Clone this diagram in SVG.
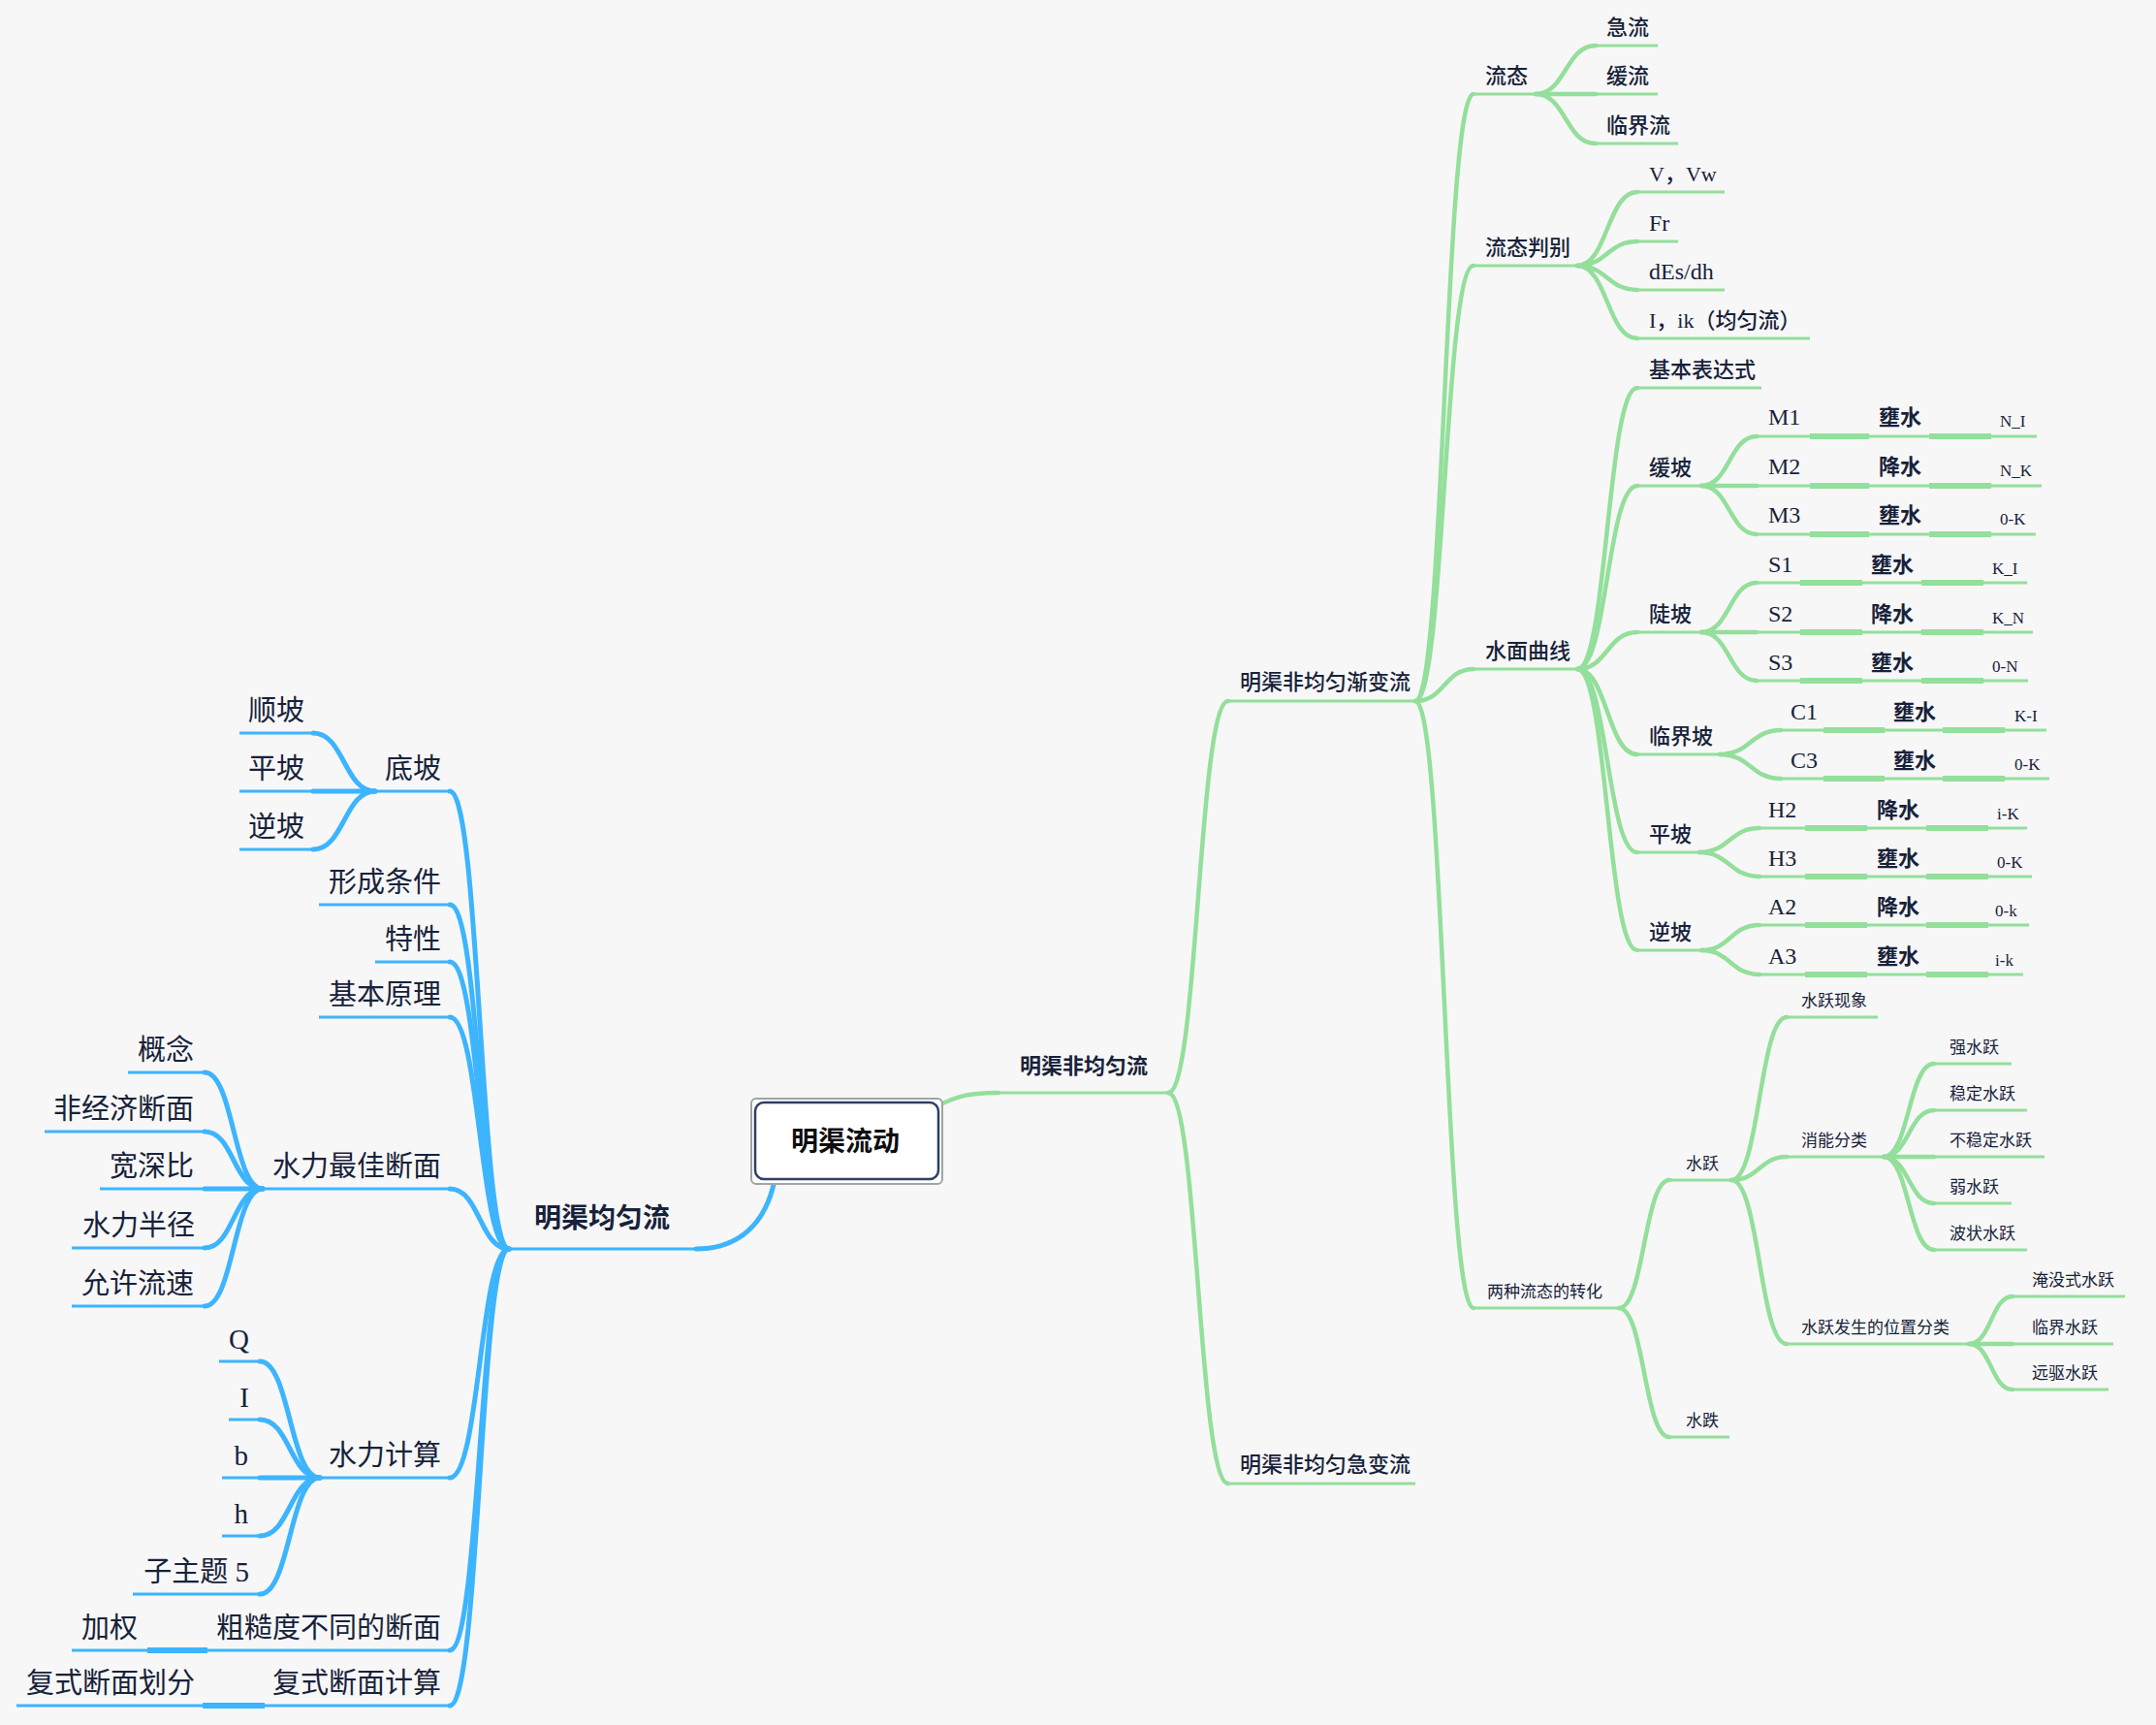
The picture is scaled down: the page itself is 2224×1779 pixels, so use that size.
<svg xmlns="http://www.w3.org/2000/svg" width="2224" height="1779" viewBox="0 0 2224 1779">
<style>
.bg{fill:#f7f7f7}
.gl{stroke:#93df9b;stroke-width:3;fill:none}
.gc{stroke:#93df9b;stroke-width:4.5;fill:none;stroke-linecap:round}
.gk{stroke:#93df9b;stroke-width:6;fill:none}
.bl{stroke:#3db4fe;stroke-width:3;fill:none}
.bc{stroke:#3db4fe;stroke-width:5;fill:none;stroke-linecap:round}
.bk{stroke:#3db4fe;stroke-width:6;fill:none}
text{fill:#17223a;font-family:"Liberation Serif","Noto Sans CJK SC",serif}
.t28{font-size:29px;text-anchor:end}
.t22{font-size:22px;font-weight:500}
.t24{font-size:24px}
.t22b{font-size:22px;font-weight:bold}
.t16{font-size:17px}
.t17{font-size:17px}
.bold{font-family:"Noto Sans CJK SC","Liberation Sans",sans-serif;font-weight:bold}
</style>
<rect class="bg" x="0" y="0" width="2224" height="1779"/>

<g id="connectors">
<path class="gc" d="M966 1141 C988 1130 1000 1127 1030 1127"/>
<path class="bc" d="M799 1217 C790 1262 762 1288 718 1288"/>
<path class="gc" d="M1205 1127 C1236 1127 1236 723 1267 723"/>
<path class="gc" d="M1205 1127 C1236 1127 1236 1530 1267 1530"/>
<path class="gc" d="M1460 723 C1490 723 1490 97 1520 97"/>
<path class="gc" d="M1460 723 C1490 723 1490 274 1520 274"/>
<path class="gc" d="M1460 723 C1490 723 1490 690 1520 690"/>
<path class="gc" d="M1460 723 C1490 723 1490 1349 1520 1349"/>
<path class="gc" d="M1584 97 C1615 97 1615 47 1646 47"/>
<path class="gc" d="M1584 97 L1646 97"/>
<path class="gc" d="M1584 97 C1615 97 1615 148 1646 148"/>
<path class="gc" d="M1627 274 C1658 274 1658 198 1689 198"/>
<path class="gc" d="M1627 274 C1658 274 1658 249 1689 249"/>
<path class="gc" d="M1627 274 C1658 274 1658 299 1689 299"/>
<path class="gc" d="M1627 274 C1658 274 1658 349 1689 349"/>
<path class="gc" d="M1627 690 C1658 690 1658 400 1689 400"/>
<path class="gc" d="M1627 690 C1658 690 1658 501 1689 501"/>
<path class="gc" d="M1627 690 C1658 690 1658 652 1689 652"/>
<path class="gc" d="M1627 690 C1658 690 1658 778 1689 778"/>
<path class="gc" d="M1627 690 C1658 690 1658 879 1689 879"/>
<path class="gc" d="M1627 690 C1658 690 1658 980 1689 980"/>
<path class="gc" d="M1755 501 C1784 501 1784 450 1812 450"/>
<path class="gc" d="M1755 501 L1812 501"/>
<path class="gc" d="M1755 501 C1784 501 1784 551 1812 551"/>
<path class="gc" d="M1755 652 C1784 652 1784 601 1812 601"/>
<path class="gc" d="M1755 652 L1812 652"/>
<path class="gc" d="M1755 652 C1784 652 1784 702 1812 702"/>
<path class="gc" d="M1774 778 C1806 778 1806 753 1837 753"/>
<path class="gc" d="M1774 778 C1806 778 1806 803 1837 803"/>
<path class="gc" d="M1753 879 C1784 879 1784 854 1815 854"/>
<path class="gc" d="M1753 879 C1784 879 1784 904 1815 904"/>
<path class="gc" d="M1755 980 C1785 980 1785 954 1815 954"/>
<path class="gc" d="M1755 980 C1785 980 1785 1005 1815 1005"/>
<path class="gk" d="M1867 450 H1928 M1990 450 H2054 M1867 501 H1928 M1990 501 H2054 M1867 551 H1928 M1990 551 H2054"/>
<path class="gk" d="M1857 601 H1921 M1982 601 H2046 M1857 652 H1921 M1982 652 H2046 M1857 702 H1921 M1982 702 H2046"/>
<path class="gk" d="M1881 753 H1944 M2004 753 H2068 M1881 803 H1944 M2004 803 H2068"/>
<path class="gk" d="M1862 854 H1926 M1987 854 H2051 M1862 904 H1926 M1987 904 H2051"/>
<path class="gk" d="M1862 954 H1926 M1987 954 H2051 M1862 1005 H1926 M1987 1005 H2051"/>
<path class="gc" d="M1670 1349 C1696 1349 1696 1217 1722 1217"/>
<path class="gc" d="M1670 1349 C1696 1349 1696 1482 1722 1482"/>
<path class="gc" d="M1786 1217 C1815 1217 1815 1049 1843 1049"/>
<path class="gc" d="M1786 1217 C1815 1217 1815 1193 1843 1193"/>
<path class="gc" d="M1786 1217 C1815 1217 1815 1386 1843 1386"/>
<path class="gc" d="M1943 1193 C1969 1193 1969 1097 1995 1097"/>
<path class="gc" d="M1943 1193 C1969 1193 1969 1145 1995 1145"/>
<path class="gc" d="M1943 1193 L1995 1193"/>
<path class="gc" d="M1943 1193 C1969 1193 1969 1241 1995 1241"/>
<path class="gc" d="M1943 1193 C1969 1193 1969 1289 1995 1289"/>
<path class="gc" d="M2031 1386 C2054 1386 2054 1337 2076 1337"/>
<path class="gc" d="M2031 1386 L2076 1386"/>
<path class="gc" d="M2031 1386 C2054 1386 2054 1433 2076 1433"/>
<path class="bc" d="M525 1288 C495 1288 495 816 464 816"/>
<path class="bc" d="M525 1288 C495 1288 495 933 464 933"/>
<path class="bc" d="M525 1288 C495 1288 495 992 464 992"/>
<path class="bc" d="M525 1288 C495 1288 495 1049 464 1049"/>
<path class="bc" d="M525 1288 C495 1288 495 1226 464 1226"/>
<path class="bc" d="M525 1288 C495 1288 495 1524 464 1524"/>
<path class="bc" d="M525 1288 C495 1288 495 1702 464 1702"/>
<path class="bc" d="M525 1288 C495 1288 495 1759 464 1759"/>
<path class="bc" d="M387 816 C355 816 355 756 323 756"/>
<path class="bc" d="M387 816 L323 816"/>
<path class="bc" d="M387 816 C355 816 355 876 323 876"/>
<path class="bc" d="M271 1226 C241 1226 241 1106 211 1106"/>
<path class="bc" d="M271 1226 C241 1226 241 1167 211 1167"/>
<path class="bc" d="M271 1226 L211 1226"/>
<path class="bc" d="M271 1226 C241 1226 241 1287 211 1287"/>
<path class="bc" d="M271 1226 C241 1226 241 1347 211 1347"/>
<path class="bc" d="M330 1524 C299 1524 299 1404 268 1404"/>
<path class="bc" d="M330 1524 C299 1524 299 1464 268 1464"/>
<path class="bc" d="M330 1524 L268 1524"/>
<path class="bc" d="M330 1524 C299 1524 299 1584 268 1584"/>
<path class="bc" d="M330 1524 C299 1524 299 1644 268 1644"/>
<path class="bk" d="M214 1702 H152 M273 1759 H209"/>
</g>

<g id="root">
<rect x="775" y="1133" width="197" height="88" rx="5" fill="#ffffff" stroke="#a3a3a3" stroke-width="2"/>
<rect x="779" y="1137" width="189" height="79" rx="9" fill="#ffffff" stroke="#2e4069" stroke-width="2.5"/>
<text class="bold" x="872" y="1187" font-size="28" text-anchor="middle" style="fill:#0d0d10">明渠流动</text>
</g>

<g id="n-nonuniform"><path class="gl" d="M1030 1127 H1205"/><text class="bold" x="1052" y="1107" font-size="22">明渠非均匀流</text></g>
<g id="n-uniform"><path class="bl" d="M525 1288 H718"/><text class="bold" x="551" y="1266" font-size="28">明渠均匀流</text></g>

<g id="n-gradual"><path class="gl" d="M1267 723 H1460"/><text class="t22" x="1279" y="711">明渠非均匀渐变流</text></g>
<g id="n-rapid"><path class="gl" d="M1267 1530 H1460"/><text class="t22" x="1279" y="1518">明渠非均匀急变流</text></g>
<g id="n-state"><path class="gl" d="M1520 97 H1584"/><text class="t22" x="1532" y="86">流态</text></g>
<g id="n-judge"><path class="gl" d="M1520 274 H1627"/><text class="t22" x="1532" y="263">流态判别</text></g>
<g id="n-surface"><path class="gl" d="M1520 690 H1627"/><text class="t22" x="1532" y="679">水面曲线</text></g>
<g id="n-transform"><path class="gl" d="M1520 1349 H1670"/><text class="t17" x="1534" y="1338">两种流态的转化</text></g>
<g id="n-jiliu"><path class="gl" d="M1646 47 H1710"/><text class="t22" x="1657" y="36">急流</text></g>
<g id="n-huanliu"><path class="gl" d="M1646 97 H1710"/><text class="t22" x="1657" y="86">缓流</text></g>
<g id="n-linjieliu"><path class="gl" d="M1646 148 H1731"/><text class="t22" x="1657" y="137">临界流</text></g>
<g id="n-vvw"><path class="gl" d="M1689 198 H1779"/><text class="t22" x="1701" y="187">V，Vw</text></g>
<g id="n-fr"><path class="gl" d="M1689 249 H1731"/><text class="t24" x="1701" y="238">Fr</text></g>
<g id="n-des"><path class="gl" d="M1689 299 H1779"/><text class="t24" x="1701" y="288">dEs/dh</text></g>
<g id="n-iik"><path class="gl" d="M1689 349 H1867"/><text class="t22" x="1701" y="338">I，ik（均匀流）</text></g>
<g id="n-basic"><path class="gl" d="M1689 400 H1817"/><text class="t22" x="1701" y="389">基本表达式</text></g>
<g id="n-mild"><path class="gl" d="M1689 501 H1755"/><text class="t22" x="1701" y="490">缓坡</text></g>
<g id="n-steep"><path class="gl" d="M1689 652 H1755"/><text class="t22" x="1701" y="641">陡坡</text></g>
<g id="n-critical"><path class="gl" d="M1689 778 H1774"/><text class="t22" x="1701" y="767">临界坡</text></g>
<g id="n-horizontal"><path class="gl" d="M1689 879 H1753"/><text class="t22" x="1701" y="868">平坡</text></g>
<g id="n-adverse"><path class="gl" d="M1689 980 H1755"/><text class="t22" x="1701" y="969">逆坡</text></g>

<g id="n-M1"><path class="gl" d="M1812 450 H1867 M1928 450 H1990 M2054 450 H2101"/><text class="t24" x="1824" y="438">M1</text><text class="t22b bold" x="1938" y="438">壅水</text><text class="t16" x="2063" y="440">N_I</text></g>
<g id="n-M2"><path class="gl" d="M1812 501 H1867 M1928 501 H1990 M2054 501 H2106"/><text class="t24" x="1824" y="489">M2</text><text class="t22b bold" x="1938" y="489">降水</text><text class="t16" x="2063" y="491">N_K</text></g>
<g id="n-M3"><path class="gl" d="M1812 551 H1867 M1928 551 H1990 M2054 551 H2100"/><text class="t24" x="1824" y="539">M3</text><text class="t22b bold" x="1938" y="539">壅水</text><text class="t16" x="2063" y="541">0-K</text></g>
<g id="n-S1"><path class="gl" d="M1812 601 H1857 M1921 601 H1982 M2046 601 H2091"/><text class="t24" x="1824" y="590">S1</text><text class="t22b bold" x="1930" y="590">壅水</text><text class="t16" x="2055" y="592">K_I</text></g>
<g id="n-S2"><path class="gl" d="M1812 652 H1857 M1921 652 H1982 M2046 652 H2097"/><text class="t24" x="1824" y="641">S2</text><text class="t22b bold" x="1930" y="641">降水</text><text class="t16" x="2055" y="643">K_N</text></g>
<g id="n-S3"><path class="gl" d="M1812 702 H1857 M1921 702 H1982 M2046 702 H2092"/><text class="t24" x="1824" y="691">S3</text><text class="t22b bold" x="1930" y="691">壅水</text><text class="t16" x="2055" y="693">0-N</text></g>
<g id="n-C1"><path class="gl" d="M1837 753 H1881 M1944 753 H2004 M2068 753 H2111"/><text class="t24" x="1847" y="742">C1</text><text class="t22b bold" x="1953" y="742">壅水</text><text class="t16" x="2078" y="744">K-I</text></g>
<g id="n-C3"><path class="gl" d="M1837 803 H1881 M1944 803 H2004 M2068 803 H2114"/><text class="t24" x="1847" y="792">C3</text><text class="t22b bold" x="1953" y="792">壅水</text><text class="t16" x="2078" y="794">0-K</text></g>
<g id="n-H2"><path class="gl" d="M1815 854 H1862 M1926 854 H1987 M2051 854 H2091"/><text class="t24" x="1824" y="843">H2</text><text class="t22b bold" x="1936" y="843">降水</text><text class="t16" x="2060" y="845">i-K</text></g>
<g id="n-H3"><path class="gl" d="M1815 904 H1862 M1926 904 H1987 M2051 904 H2096"/><text class="t24" x="1824" y="893">H3</text><text class="t22b bold" x="1936" y="893">壅水</text><text class="t16" x="2060" y="895">0-K</text></g>
<g id="n-A2"><path class="gl" d="M1815 954 H1862 M1926 954 H1987 M2051 954 H2093"/><text class="t24" x="1824" y="943">A2</text><text class="t22b bold" x="1936" y="943">降水</text><text class="t16" x="2058" y="945">0-k</text></g>
<g id="n-A3"><path class="gl" d="M1815 1005 H1862 M1926 1005 H1987 M2051 1005 H2087"/><text class="t24" x="1824" y="994">A3</text><text class="t22b bold" x="1936" y="994">壅水</text><text class="t16" x="2058" y="996">i-k</text></g>

<g id="n-jump"><path class="gl" d="M1722 1217 H1786"/><text class="t17" x="1739" y="1206">水跃</text></g>
<g id="n-drop"><path class="gl" d="M1722 1482 H1784"/><text class="t17" x="1739" y="1471">水跌</text></g>
<g id="n-phenom"><path class="gl" d="M1843 1049 H1937"/><text class="t17" x="1858" y="1038">水跃现象</text></g>
<g id="n-energy"><path class="gl" d="M1843 1193 H1943"/><text class="t17" x="1858" y="1182">消能分类</text></g>
<g id="n-position"><path class="gl" d="M1843 1386 H2031"/><text class="t17" x="1858" y="1375">水跃发生的位置分类</text></g>
<g id="n-strong"><path class="gl" d="M1995 1097 H2075"/><text class="t17" x="2011" y="1086">强水跃</text></g>
<g id="n-stable"><path class="gl" d="M1995 1145 H2091"/><text class="t17" x="2011" y="1134">稳定水跃</text></g>
<g id="n-unstable"><path class="gl" d="M1995 1193 H2109"/><text class="t17" x="2011" y="1182">不稳定水跃</text></g>
<g id="n-weak"><path class="gl" d="M1995 1241 H2075"/><text class="t17" x="2011" y="1230">弱水跃</text></g>
<g id="n-undular"><path class="gl" d="M1995 1289 H2091"/><text class="t17" x="2011" y="1278">波状水跃</text></g>
<g id="n-submerged"><path class="gl" d="M2076 1337 H2192"/><text class="t17" x="2096" y="1326">淹没式水跃</text></g>
<g id="n-critjump"><path class="gl" d="M2076 1386 H2180"/><text class="t17" x="2096" y="1375">临界水跃</text></g>
<g id="n-remote"><path class="gl" d="M2076 1433 H2175"/><text class="t17" x="2096" y="1422">远驱水跃</text></g>

<g id="n-slope"><path class="bl" d="M387 816 H464"/><text class="t28" x="455" y="803">底坡</text></g>
<g id="n-cond"><path class="bl" d="M329 933 H464"/><text class="t28" x="455" y="920">形成条件</text></g>
<g id="n-prop"><path class="bl" d="M387 992 H464"/><text class="t28" x="455" y="979">特性</text></g>
<g id="n-principle"><path class="bl" d="M329 1049 H464"/><text class="t28" x="455" y="1036">基本原理</text></g>
<g id="n-best"><path class="bl" d="M271 1226 H464"/><text class="t28" x="455" y="1213">水力最佳断面</text></g>
<g id="n-calc"><path class="bl" d="M330 1524 H464"/><text class="t28" x="455" y="1511">水力计算</text></g>
<g id="n-rough"><path class="bl" d="M214 1702 H464"/><text class="t28" x="455" y="1689">粗糙度不同的断面</text></g>
<g id="n-compound"><path class="bl" d="M273 1759 H464"/><text class="t28" x="455" y="1746">复式断面计算</text></g>
<g id="n-positive"><path class="bl" d="M247 756 H323"/><text class="t28" x="314" y="743">顺坡</text></g>
<g id="n-flat"><path class="bl" d="M247 816 H323"/><text class="t28" x="314" y="803">平坡</text></g>
<g id="n-reverse"><path class="bl" d="M247 876 H323"/><text class="t28" x="314" y="863">逆坡</text></g>
<g id="n-concept"><path class="bl" d="M132 1106 H211"/><text class="t28" x="200" y="1093">概念</text></g>
<g id="n-noneco"><path class="bl" d="M46 1167 H211"/><text class="t28" x="200" y="1154">非经济断面</text></g>
<g id="n-ratio"><path class="bl" d="M103 1226 H211"/><text class="t28" x="200" y="1213">宽深比</text></g>
<g id="n-radius"><path class="bl" d="M74 1287 H211"/><text class="t28" x="201" y="1274">水力半径</text></g>
<g id="n-velocity"><path class="bl" d="M74 1347 H211"/><text class="t28" x="200" y="1334">允许流速</text></g>
<g id="n-Q"><path class="bl" d="M226 1404 H268"/><text class="t28" x="257" y="1391">Q</text></g>
<g id="n-I"><path class="bl" d="M236 1464 H268"/><text class="t28" x="257" y="1451">I</text></g>
<g id="n-b"><path class="bl" d="M229 1524 H268"/><text class="t28" x="256" y="1511">b</text></g>
<g id="n-h"><path class="bl" d="M229 1584 H268"/><text class="t28" x="256" y="1571">h</text></g>
<g id="n-sub5"><path class="bl" d="M137 1644 H268"/><text class="t28" x="257" y="1631">子主题 5</text></g>
<g id="n-weight"><path class="bl" d="M74 1702 H152"/><text class="t28" x="142" y="1689">加权</text></g>
<g id="n-divide"><path class="bl" d="M17 1759 H209"/><text class="t28" x="201" y="1746">复式断面划分</text></g>
</svg>
